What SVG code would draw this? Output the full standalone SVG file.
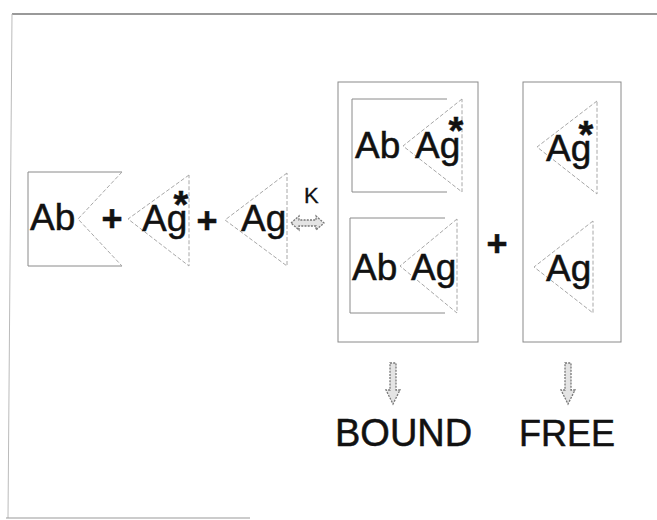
<svg xmlns="http://www.w3.org/2000/svg" width="657" height="520" viewBox="0 0 657 520">
<style>
.t{font-family:"Liberation Sans",Arial,sans-serif;fill:#111;stroke:#111;stroke-width:0.5;}
.lbl{font-size:37px;}
.pl{font-size:36px;font-weight:bold;text-anchor:middle;}
.ast{font-size:38px;font-weight:bold;}
.k{font-size:22px;stroke-width:0.3;}
.box{fill:none;stroke:#8a8a8a;stroke-width:1;}
.tri{fill:none;stroke:#a8a8a8;stroke-width:1;stroke-dasharray:4 2;}
.arr{fill:#e4e4e4;stroke:#777;stroke-width:1.3;stroke-dasharray:2 1.2;}
</style>
<rect width="657" height="520" fill="#fff"/>
<g id="frame">
<path d="M12,14 H657" stroke="#777" stroke-width="1.5" fill="none"/>
<path d="M12,14 L8,518" stroke="#bbb" stroke-width="1" fill="none"/>
<path d="M6,518 H250" stroke="#999" stroke-width="1.2" fill="none"/>
</g>
<g id="ab">
<path class="box" d="M122,172 H28 V266 H122"/>
<path class="tri" d="M122,172 L78,219 L122,266"/>
<text class="t lbl" x="30" y="230">Ab</text>
</g>
<text class="t pl" x="112" y="231">+</text>
<g id="agstar">
<path class="tri" d="M189,175 L128,219 L189,266 Z"/>
<text class="t lbl" x="142" y="231">Ag<tspan class="ast" dx="-13.7" dy="-13">*</tspan></text>
</g>
<text class="t pl" x="207" y="233">+</text>
<g id="ag">
<path class="tri" d="M287,173 L225,220 L287,266 Z"/>
<text class="t lbl" x="241" y="231">Ag</text>
</g>
<text class="t k" x="304" y="203">K</text>
<g id="connectors">
<path class="arr" d="M291,223 L299,216 L299,220 L316,220 L316,216 L324,223 L316,230 L316,226 L299,226 L299,230 Z"/>
<path class="arr" d="M390,363 H396 V390 H400 L393,404 L386,390 H390 Z"/>
<path class="arr" d="M565,363 H571 V390 H575 L568,404 L561,390 H565 Z"/>
</g>
<g id="bound">
<rect class="box" x="338" y="82" width="140" height="260"/>
<g id="complex1">
<path class="box" d="M447,99 H352 V192 H447"/>
<path class="tri" d="M462,99 L403,146 L462,192 Z"/>
<text class="t lbl" x="355" y="158">Ab</text>
<text class="t lbl" x="415" y="158">Ag<tspan class="ast" dx="-11.7" dy="-14">*</tspan></text>
</g>
<g id="complex2">
<path class="box" d="M445,218 H350 V313 H445"/>
<path class="tri" d="M457,219 L400,266 L457,313 Z"/>
<text class="t lbl" x="352" y="280">Ab</text>
<text class="t lbl" x="411" y="280">Ag</text>
</g>
</g>
<text class="t pl" x="497" y="256">+</text>
<g id="free">
<rect class="box" x="523" y="82" width="98" height="260"/>
<g id="freeagstar">
<path class="tri" d="M597,101 L537,147 L597,194 Z"/>
<text class="t lbl" x="546" y="161">Ag<tspan class="ast" dx="-12.7" dy="-13">*</tspan></text>
</g>
<g id="freeag">
<path class="tri" d="M593,221 L534,267 L593,313 Z"/>
<text class="t lbl" x="546" y="281">Ag</text>
</g>
</g>
<text class="t" x="335" y="446" font-size="38">BOUND</text>
<text class="t" x="519" y="446" font-size="36">FREE</text>
</svg>
